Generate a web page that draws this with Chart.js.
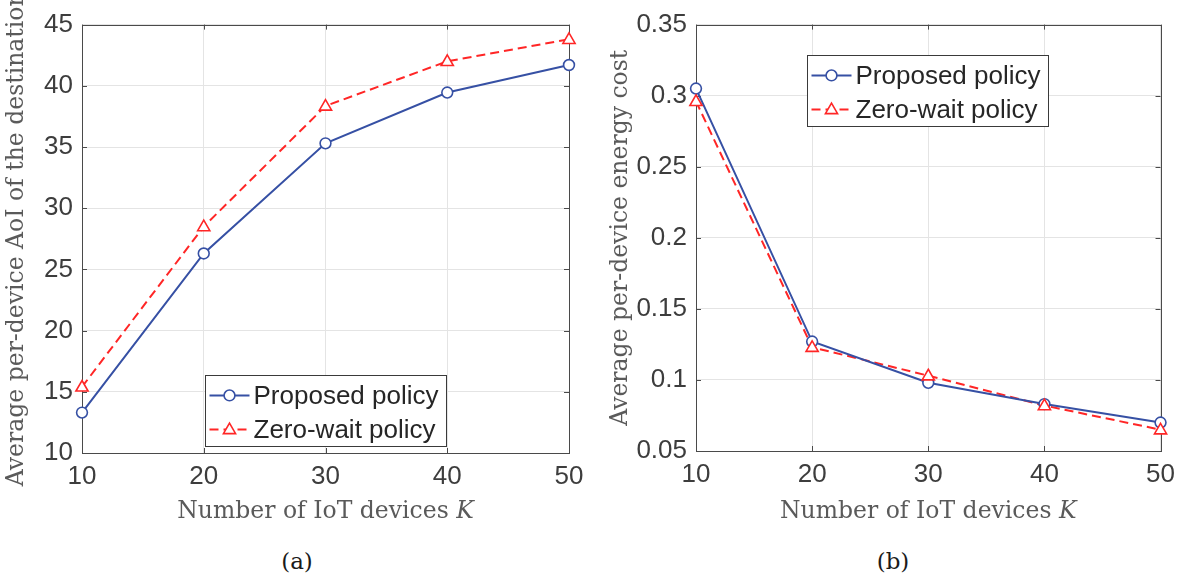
<!DOCTYPE html>
<html><head><meta charset="utf-8">
<script src="https://cdn.jsdelivr.net/npm/chart.js@4/dist/chart.umd.min.js"></script>
<style>
html,body{margin:0;padding:0;background:#fff}
body{width:1183px;height:576px;overflow:hidden;position:relative}
.c{position:absolute;top:0}
.cap{position:absolute;top:546px;font-family:'DejaVu Serif',serif;font-size:23px;line-height:30px;color:#1a1a1a;transform:translateX(-50%)}
</style></head><body>
<div class="c" style="left:0;width:600px;height:530px"><canvas id="a" width="600" height="530"></canvas></div>
<div class="c" style="left:600px;width:583px;height:530px"><canvas id="b" width="583" height="530"></canvas></div>
<div class="cap" style="left:297px">(a)</div>
<div class="cap" style="left:893px">(b)</div>
<script>
// ---- data ----
const devices = [10, 20, 30, 40, 50];
const aoiProposed = [13.3, 26.3, 35.3, 39.45, 41.7];
const aoiZeroWait = [15.4, 28.5, 38.35, 42.0, 43.8];
const energyProposed = [0.305, 0.127, 0.098, 0.083, 0.070];
const energyZeroWait = [0.296, 0.123, 0.103, 0.082, 0.065];
const xTicks = [10, 20, 30, 40, 50];
const aoiTicks = [10, 15, 20, 25, 30, 35, 40, 45];
const energyTicks = [0.05, 0.1, 0.15, 0.2, 0.25, 0.3, 0.35];
const seriesNames = ['Proposed policy', 'Zero-wait policy'];
const xTitleMain = 'Number of IoT devices ';
const xTitleVar = 'K';
const aoiTitle = 'Average per-device AoI of the destination';
const energyTitle = 'Average per-device energy cost';

const BLUE = '#3650a4';
const RED = '#ff2626';
const TICKC = '#3d3d3d';
const TITLEC = '#5a5a5a';
const SANS = "'Liberation Sans', Arial, sans-serif";
const SERIF = "'DejaVu Serif', serif";
const TITLESIZE = 23.5;

function drawMarker(ctx, style, x, y, color) {
  ctx.save();
  ctx.strokeStyle = color; ctx.fillStyle = '#fff'; ctx.lineWidth = 1.6; ctx.setLineDash([]);
  ctx.beginPath();
  if (style === 'circle') {
    ctx.arc(x, y, 5.4, 0, Math.PI * 2);
  } else {
    const r = 6.4;
    ctx.moveTo(x, y - r);
    ctx.lineTo(x + r * 0.95, y + r * 0.65);
    ctx.lineTo(x - r * 0.95, y + r * 0.65);
    ctx.closePath();
  }
  ctx.fill(); ctx.stroke();
  ctx.restore();
}

const framePlugin = {
  id: 'frame',
  beforeDatasetsDraw(chart) {
    const {ctx, chartArea: a, scales} = chart;
    ctx.save();
    ctx.strokeStyle = '#4a4a4a'; ctx.lineWidth = 1;
    ctx.strokeRect(Math.round(a.left) + 0.5, Math.round(a.top) + 0.5, Math.round(a.right - a.left), Math.round(a.bottom - a.top));
    const tl = 5;
    ctx.beginPath();
    scales.x.ticks.forEach(t => {
      const px = Math.round(scales.x.getPixelForValue(t.value)) + 0.5;
      ctx.moveTo(px, a.bottom); ctx.lineTo(px, a.bottom - tl);
      ctx.moveTo(px, a.top); ctx.lineTo(px, a.top + tl);
    });
    scales.y.ticks.forEach(t => {
      const py = Math.round(scales.y.getPixelForValue(t.value)) + 0.5;
      ctx.moveTo(a.left, py); ctx.lineTo(a.left + tl, py);
      ctx.moveTo(a.right, py); ctx.lineTo(a.right - tl, py);
    });
    ctx.stroke();
    ctx.restore();
  }
};

// x-axis title with italic variable K
const xTitlePlugin = {
  id: 'xTitle',
  afterDraw(chart, args, opts) {
    const {ctx, chartArea: a} = chart;
    ctx.save();
    ctx.fillStyle = TITLEC; ctx.textBaseline = 'alphabetic'; ctx.textAlign = 'left';
    const fN = TITLESIZE + 'px ' + SERIF, fI = 'italic ' + TITLESIZE + 'px ' + SERIF;
    ctx.font = fN; const w1 = ctx.measureText(xTitleMain).width;
    ctx.font = fI; const w2 = ctx.measureText(xTitleVar).width;
    const x0 = (a.left + a.right) / 2 - (w1 + w2) / 2;
    ctx.font = fN; ctx.fillText(xTitleMain, x0, opts.baseline);
    ctx.font = fI; ctx.fillText(xTitleVar, x0 + w1, opts.baseline);
    ctx.restore();
  }
};

const boxLegendPlugin = {
  id: 'boxLegend',
  afterDatasetsDraw(chart, args, opts) {
    const {ctx, chartArea: a} = chart;
    const left = Math.round(a.left + (a.right - a.left) * opts.fx) + 0.5;
    const top = Math.round(a.top + (a.bottom - a.top) * opts.fy) + 0.5;
    const w = opts.w, h = opts.h;
    ctx.save();
    ctx.fillStyle = '#fff'; ctx.fillRect(left, top, w, h);
    ctx.strokeStyle = '#3a3a3a'; ctx.lineWidth = 1; ctx.strokeRect(left, top, w, h);
    chart.data.datasets.forEach((ds, i) => {
      const y = top + h * (i === 0 ? 0.28 : 0.76);
      ctx.save();
      ctx.strokeStyle = ds.borderColor; ctx.lineWidth = 2;
      ctx.setLineDash(ds.borderDash || []);
      ctx.beginPath(); ctx.moveTo(left + 4, y); ctx.lineTo(left + 44, y); ctx.stroke();
      ctx.restore();
      drawMarker(ctx, ds.pointStyle, left + 24, y, ds.borderColor);
      ctx.fillStyle = '#262626';
      ctx.font = '26px ' + SANS;
      ctx.textBaseline = 'middle'; ctx.textAlign = 'left';
      ctx.fillText(ds.label, left + 48, y + 1);
    });
    ctx.restore();
  }
};

function mkDatasets(p, z) {
  return [
    {label: seriesNames[0], data: devices.map((d, i) => ({x: d, y: p[i]})),
     borderColor: BLUE, backgroundColor: BLUE, borderWidth: 2, pointStyle: 'circle',
     pointRadius: 0, clip: false, tension: 0},
    {label: seriesNames[1], data: devices.map((d, i) => ({x: d, y: z[i]})),
     borderColor: RED, backgroundColor: RED, borderWidth: 2, borderDash: [9, 5], pointStyle: 'triangle',
     pointRadius: 0, clip: false, tension: 0}
  ];
}

const markerPlugin = {
  id: 'markers',
  afterDatasetsDraw(chart) {
    chart.data.datasets.forEach((ds, i) => {
      const meta = chart.getDatasetMeta(i);
      meta.data.forEach(pt => drawMarker(chart.ctx, ds.pointStyle, pt.x, pt.y, ds.borderColor));
    });
  }
};

function mkChart(id, p, z, yTicks, yTitle, cfg) {
  return new Chart(document.getElementById(id), {
    type: 'line',
    data: {datasets: mkDatasets(p, z)},
    plugins: [framePlugin, markerPlugin, boxLegendPlugin, xTitlePlugin],
    options: {
      responsive: false, animation: false,
      layout: {autoPadding: false, padding: cfg.padding},
      plugins: {
        legend: {display: false}, tooltip: {enabled: false},
        boxLegend: cfg.legend,
        xTitle: {baseline: 518}
      },
      scales: {
        x: {
          type: 'linear', min: xTicks[0], max: xTicks[xTicks.length - 1],
          afterBuildTicks: s => { s.ticks = xTicks.map(v => ({value: v})); },
          afterFit: s => { s.height = cfg.xh; },
          grid: {color: '#e4e4e4', drawTicks: false, lineWidth: 1},
          border: {display: false},
          ticks: {color: TICKC, font: {family: SANS, size: 26}, padding: 8, maxRotation: 0,
                  callback: v => String(v)},
          title: {display: false}
        },
        y: {
          type: 'linear', min: yTicks[0], max: yTicks[yTicks.length - 1],
          afterBuildTicks: s => { s.ticks = yTicks.map(v => ({value: v})); },
          afterFit: s => { s.width = cfg.yw; },
          grid: {color: '#e4e4e4', drawTicks: false, lineWidth: 1},
          border: {display: false},
          ticks: {color: TICKC, font: {family: SANS, size: 26}, padding: 9,
                  callback: v => String(+Number(v).toFixed(2))},
          title: {display: true, text: yTitle, color: TITLEC, font: {family: SERIF, size: TITLESIZE}, padding: {top: 3, bottom: 4}}
        }
      }
    }
  });
}

mkChart('a', aoiProposed, aoiZeroWait, aoiTicks, aoiTitle, {
  padding: {left: 0, top: 15.5, right: 31, bottom: 2}, yw: 82, xh: 75,
  legend: {fx: 0.2526, fy: 0.817, w: 241, h: 71}
});
mkChart('b', energyProposed, energyZeroWait, energyTicks, energyTitle, {
  padding: {left: 4, top: 14, right: 21, bottom: 2}, yw: 92, xh: 77,
  legend: {fx: 0.240, fy: 0.071, w: 241, h: 71}
});
</script>
</body></html>
